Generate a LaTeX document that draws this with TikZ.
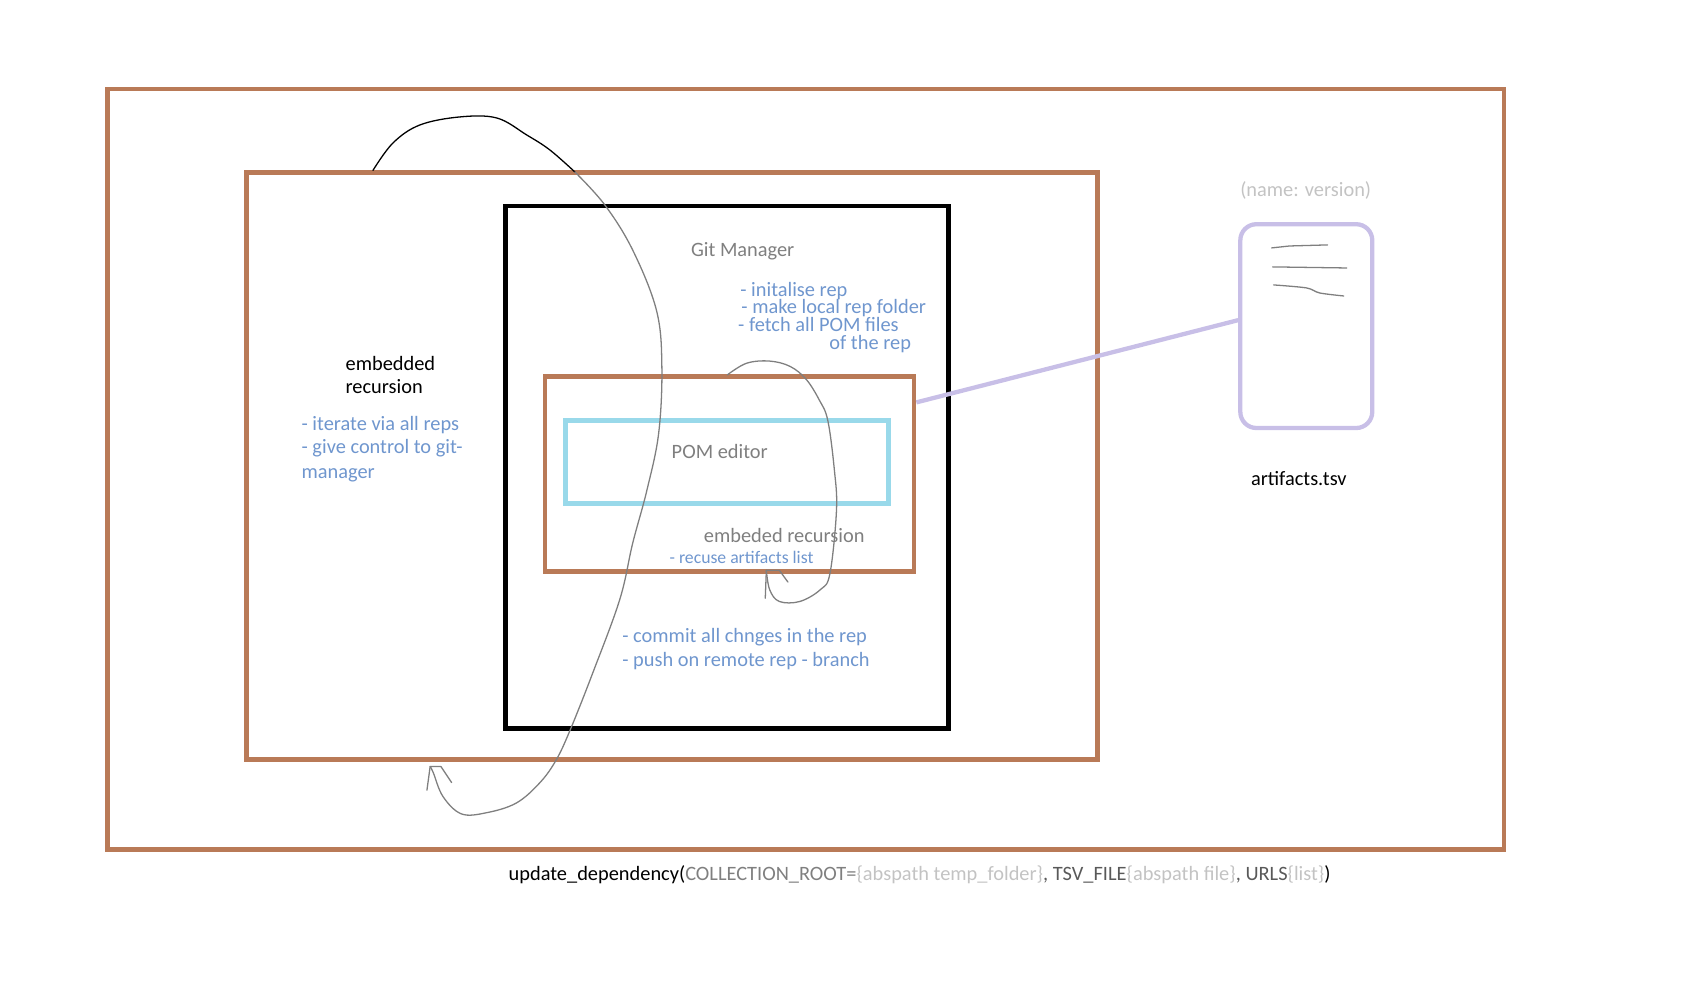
\documentclass[tikz,border=0pt]{standalone}
\usepackage{fontspec}
\setmainfont{Carlito}
\definecolor{boxbrown}{HTML}{B97A57}
\definecolor{pomblue}{HTML}{99D9EA}
\definecolor{lavender}{HTML}{C8BFE7}
\definecolor{notegray}{HTML}{7F7F7F}
\definecolor{noteblue}{HTML}{6F96CE}
\definecolor{lightgray}{HTML}{C3C3C3}
\definecolor{darkgray}{HTML}{595959}
\begin{document}
\begin{tikzpicture}[x=1pt,y=-1pt,
    box/.style={draw, line width=4.5pt, inner sep=0pt},
    txt/.style={anchor=base west, inner sep=0pt, font=\fontsize{19}{22}\selectfont},
    note/.style={txt, text=noteblue},
    title/.style={txt, text=notegray},
    scribble/.style={line width=1.2pt, notegray, line cap=round, line join=round}]
    \useasboundingbox (0,0) rectangle (1568,924.5);
    % boxes
    \node[box, boxbrown, minimum width=1302pt, minimum height=709pt] (update) at (751,437.5) {};
    \node[box, boxbrown, minimum width=793pt, minimum height=547pt] (loop) at (626.5,434.5) {};
    \node[box, black, minimum width=413pt, minimum height=487pt] (git) at (677.5,435.5) {};
    \node[box, boxbrown, minimum width=344pt, minimum height=182pt] (rec) at (680,442) {};
    \node[box, pomblue, minimum width=301pt, minimum height=77pt] (pom) at (677.5,430.5) {};
    \node[box, lavender, line width=4pt, rounded corners=15pt, minimum width=123pt, minimum height=190pt] (file) at (1217.75,304) {};
    \draw 
        [lavender, line width=4pt] (rec.21)--(file.175.5);
    % texts
    \node[txt, text=lightgray] (fields) at (1156,183) {(name: version)};
    \node[txt] (tsv) at (1166,453) {artifacts.tsv};
    \node[txt] (emb1) at (322,345) {embedded};
    \node[txt] (emb2) at (322,367) {recursion};
    \node[note] (it1) at (281,401) {- iterate via all reps};
    \node[note] (it2) at (281,423) {- give control to git-};
    \node[note] (it3) at (281,446) {manager};
    \node[title] (gitname) at (644,239.5) {Git Manager};
    \node[note] (g1) at (690,276) {- initalise rep};
    \node[note] (g2) at (691,292) {- make local rep folder};
    \node[note] (g3) at (688,309) {- fetch all POM files};
    \node[note] (g4) at (773,326) {of the rep};
    \node[title] (pomname) at (626,427) {POM editor};
    \node[title] (recname) at (656,506) {embeded recursion};
    \node[note, font=\fontsize{16.5}{19}\selectfont] (r1) at (624,525) {- recuse artifacts list};
    \node[note] (c1) at (580,599) {- commit all chnges in the rep};
    \node[note] (c2) at (580,621) {- push on remote rep - branch};
    \node[txt] (call) at (474,821) {update\_dependency(\textcolor{notegray}{COLLECTION\_ROOT=}\textcolor{lightgray}{\{abspath temp\_folder\}}\textcolor{darkgray}{, TSV\_FILE}\textcolor{lightgray}{\{abspath file\}}\textcolor{darkgray}{, URLS}\textcolor{lightgray}{\{list\}})};
    % big loop
    \draw 
        [scribble, black] plot[smooth, tension=0.6] coordinates {(347.7,158.8) (366.3,133.3) (391.4,116.5) (428.7,109) (463.2,110) (491,125.8) (512.6,139.8) (535.9,160.3)};
    \draw 
        [scribble] plot[smooth, tension=0.6] coordinates {(535.9,160.3) (563.7,190.9) (589.8,233.1) (612,289.4) (617,341.6) (614,404) (603,457.2) (589.8,506.4) (577.8,558.7) (552.7,627) (531.6,680.3) (518.5,708.4) (503.4,729.5) (481.3,748.6) (453.2,757.7) (430.1,758.7) (413,742.6) (404,720.5) (401,714.5)};
    \draw 
        [scribble] (398,736.6)--(401,714.5)--(411,714.5)--(421,729.5);
    % small loop
    \draw 
        [scribble] plot[smooth, tension=0.6] coordinates {(678,349.5) (696,338.6) (717.5,336.6) (736.6,341.6) (751.6,353.7) (763.7,372.8) (771.7,392) (777.8,438) (779.8,475.3) (773.7,534.6) (764.7,549.7) (745.6,560.7) (726.5,560.7) (717.5,549.7) (714.4,531.6)};
    \draw 
        [scribble] (713.4,557.7)--(714.4,531.6)--(726.5,531.6)--(734.5,542.6);
    % lines in the file
    \draw 
        [scribble] (1185.5,231.1)--(1202.2,229.3)--(1237.6,228.3);
    \draw 
        [scribble] (1186.4,248.8)--(1255.4,249.8);
    \draw 
        [scribble] plot[smooth] coordinates {(1187.3,265.6) (1218,268.4) (1230.2,273.1) (1252.6,275.9)};
\end{tikzpicture}
\end{document}
